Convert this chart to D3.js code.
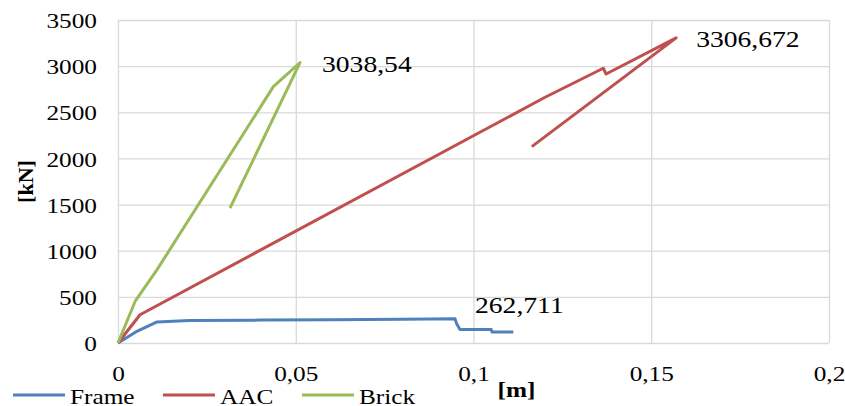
<!DOCTYPE html>
<html>
<head>
<meta charset="utf-8">
<script src="https://cdn.jsdelivr.net/npm/d3@7"></script>
<style>
  body { margin: 0; background: #fff; }
</style>
</head>
<body>
<svg id="chart" width="845" height="406"></svg>
<script>
// series: [displacement m, force kN]
const frameData = [
  [0, 0], [0.005, 120], [0.011, 228], [0.02, 243], [0.04, 248], [0.06, 252],
  [0.08, 258], [0.0948, 262.711], [0.0952, 215], [0.0962, 145], [0.105, 145],
  [0.1052, 118], [0.1112, 118]
]
const aacData = [
  [0, 0], [0.0062, 306], [0.12, 2660], [0.1365, 2977], [0.1373, 2915],
  [0.157, 3306.672], [0.1164, 2128]
]
const brickData = [
  [0, 0], [0.0048, 450], [0.0109, 790], [0.0437, 2778], [0.0512, 3038.54],
  [0.0315, 1461]
]

const seriesNames = ['Frame', 'AAC', 'Brick']
const seriesColors = ['#4f81bd', '#c0504d', '#9bbb59']

const xTicks = [0, 0.05, 0.1, 0.15, 0.2]
const yTicks = [0, 500, 1000, 1500, 2000, 2500, 3000, 3500]

// peak labels: series index, point index, text
const peakLabels = [
  { s: 0, i: 7, text: '262,711', dx: 20, dy: -6 },
  { s: 1, i: 5, text: '3306,672', dx: 20, dy: 9 },
  { s: 2, i: 4, text: '3038,54', dx: 22, dy: 9 },
]

const allData = [frameData, aacData, brickData]

const FONT = '"Liberation Serif", Tinos, "DejaVu Serif", serif'
const margin = { top: 20, right: 16, bottom: 63, left: 118 }
const width = 845 - margin.left - margin.right
const height = 406 - margin.top - margin.bottom
const stretch = 'scale(1.15,1)'

const svg = d3.select('#chart')
const g = svg.append('g').attr('transform', `translate(${margin.left},${margin.top})`)

const xs = d3.scaleLinear().domain([0, 0.2]).range([0, width])
const ys = d3.scaleLinear().domain([0, 3500]).range([height, 0])

const fmt = (d) => String(d).replace('.', ',')

function styleText(sel, size, bold) {
  sel.style('font-family', FONT)
    .style('font-size', size + 'px')
    .style('font-weight', bold ? 'bold' : 'normal')
    .style('fill', '#000')
}

// y axis with gridlines
const yAxis = g.append('g')
  .call(d3.axisLeft(ys).tickValues(yTicks).tickSize(-width).tickFormat(fmt))
yAxis.select('.domain').remove()
yAxis.selectAll('line').attr('stroke', '#d9d9d9').attr('stroke-width', 1.3)
yAxis.selectAll('text')
  .attr('x', 0).attr('dy', '0.35em')
  .attr('transform', 'translate(-21,0) ' + stretch)
  .call(styleText, 22)

// x axis with gridlines
const xAxis = g.append('g')
  .attr('transform', `translate(0,${height})`)
  .call(d3.axisBottom(xs).tickValues(xTicks).tickSize(-height).tickFormat(fmt))
xAxis.select('.domain').remove()
xAxis.selectAll('line').attr('stroke', '#d9d9d9').attr('stroke-width', 1.3)
xAxis.selectAll('text')
  .attr('y', 0).attr('dy', 0)
  .attr('transform', 'translate(0,38) ' + stretch)
  .call(styleText, 22)

// series lines
const line = d3.line().x((d) => xs(d[0])).y((d) => ys(d[1]))
g.selectAll('path.series')
  .data(allData)
  .join('path')
  .classed('series', true)
  .attr('d', line)
  .attr('fill', 'none')
  .attr('stroke', (d, i) => seriesColors[i])
  .attr('stroke-width', 3)
  .attr('stroke-linejoin', 'round')

// peak value labels
g.selectAll('text.peak')
  .data(peakLabels)
  .join('text')
  .classed('peak', true)
  .attr('transform', (d) => {
    let p = allData[d.s][d.i]
    return `translate(${xs(p[0]) + d.dx},${ys(p[1]) + d.dy}) ${stretch}`
  })
  .call(styleText, 24)
  .text((d) => d.text)

// axis titles
svg.append('text')
  .attr('transform', `translate(33,${margin.top + ys(1750)}) rotate(-90)`)
  .attr('text-anchor', 'middle')
  .call(styleText, 22, true)
  .text('[kN]')

svg.append('text')
  .attr('transform', `translate(${margin.left + xs(0.1) + 43},397) ${stretch}`)
  .attr('text-anchor', 'middle')
  .call(styleText, 22, true)
  .text('[m]')

// legend
const legendX = [13, 163, 302]
const legend = svg.append('g').selectAll('g')
  .data(seriesNames)
  .join('g')
  .attr('transform', (d, i) => `translate(${legendX[i]},395)`)
legend.append('line')
  .attr('x1', 0).attr('x2', 52)
  .attr('stroke', (d, i) => seriesColors[i])
  .attr('stroke-width', 3)
legend.append('text')
  .attr('transform', 'translate(57,9) ' + stretch)
  .call(styleText, 22)
  .text((d) => d)
</script>
</body>
</html>
